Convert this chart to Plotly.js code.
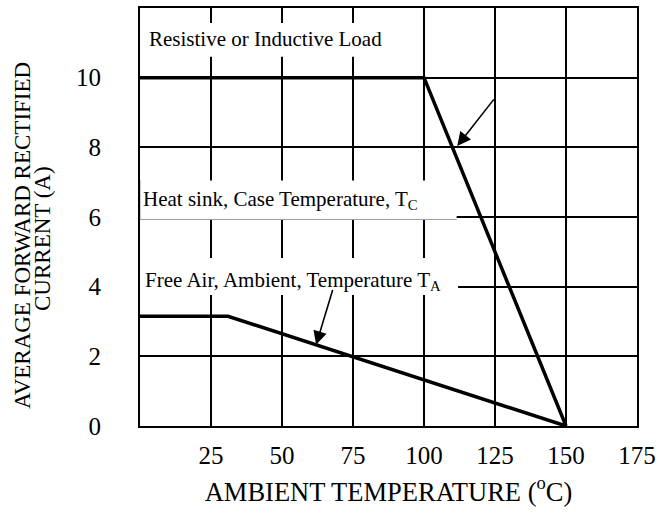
<!DOCTYPE html>
<html>
<head>
<meta charset="utf-8">
<script src="https://cdn.plot.ly/plotly-3.0.1.min.js"></script>
<style>html,body{margin:0;padding:0;background:#fff;}#chart{width:665px;height:513px;}</style>
</head>
<body>
<div id="chart"></div>
<script>
// Data
const tempCase = [0, 100, 150];
const currentCase = [10, 10, 0];
const tempAmbient = [0, 31, 150];
const currentAmbient = [3.15, 3.15, 0];
const xTickValues = [25, 50, 75, 100, 125, 150, 175];
const xTickLabels = ['25', '50', '75', '100', '125', '150', '175'];
const yTickValues = [0, 2, 4, 6, 8, 10];
const yTickLabels = ['0', '2', '4', '6', '8', '10'];
const labelLoad = 'Resistive or Inductive Load';
const labelCase = 'Heat sink, Case Temperature, T<sub>C</sub>';
const labelAmbient = 'Free Air, Ambient, Temperature T<sub>A</sub>';
const xTitle = 'AMBIENT TEMPERATURE (<sup>o</sup>C)';
const yTitleLine1 = 'AVERAGE FORWARD RECTIFIED';
const yTitleLine2 = 'CURRENT (A)';

const FONT = 'Liberation Serif, Times New Roman, serif';

const traces = [
  {x: tempCase, y: currentCase, type: 'scatter', mode: 'lines',
   line: {color: '#000', width: 3.5}, showlegend: false, hoverinfo: 'skip'},
  {x: tempAmbient, y: currentAmbient, type: 'scatter', mode: 'lines',
   line: {color: '#000', width: 3.5}, showlegend: false, hoverinfo: 'skip'}
];

const layout = {
  width: 665, height: 513,
  margin: {l: 140, r: 28, t: 8, b: 87},
  paper_bgcolor: '#fff', plot_bgcolor: '#fff',
  font: {family: FONT, color: '#000'},
  showlegend: false,
  xaxis: {
    range: [0, 175], tickmode: 'array', tickvals: xTickValues, ticktext: xTickLabels,
    showgrid: true, gridcolor: '#000', gridwidth: 2,
    zeroline: false, showline: true, mirror: true, linecolor: '#000', linewidth: 2,
    ticks: '', ticklabelstandoff: 6,
    tickfont: {family: FONT, size: 25, color: '#000'},
    title: {text: xTitle, font: {family: FONT, size: 26.5, color: '#000'}, standoff: 14},
    fixedrange: true
  },
  yaxis: {
    range: [0, 12], tickmode: 'array', tickvals: yTickValues, ticktext: yTickLabels,
    showgrid: true, gridcolor: '#000', gridwidth: 2,
    zeroline: false, showline: true, mirror: true, linecolor: '#000', linewidth: 2,
    ticks: '', ticklabelstandoff: 32,
    tickfont: {family: FONT, size: 25, color: '#000'},
    fixedrange: true
  },
  shapes: [
    {type: 'rect', xref: 'x', yref: 'y', x0: 0.5, x1: 92, y0: 10.6, y1: 11.57,
     fillcolor: '#fff', line: {width: 0}, layer: 'between'},
    {type: 'rect', xref: 'x', yref: 'y', x0: 0, x1: 111.5, y0: 5.93, y1: 7.05,
     fillcolor: '#fff', line: {width: 0}, layer: 'above'},
    {type: 'line', xref: 'x', yref: 'y', x0: 0, x1: 111.5, y0: 5.93, y1: 5.93,
     line: {color: '#999', width: 1}, layer: 'above'},
    {type: 'line', xref: 'x', yref: 'y', x0: 0, x1: 0, y0: 5.93, y1: 7.05,
     line: {color: '#999', width: 1}, layer: 'above'},
    {type: 'rect', xref: 'x', yref: 'y', x0: 0, x1: 112, y0: 3.76, y1: 4.82,
     fillcolor: '#fff', line: {width: 0}, layer: 'above'}
  ],
  annotations: [
    {xref: 'x', yref: 'y', x: 2.5, y: 11.1, xanchor: 'left', yanchor: 'middle',
     text: labelLoad, showarrow: false, font: {family: FONT, size: 21, color: '#000'}},
    {xref: 'x', yref: 'y', x: 0.5, y: 6.5, xanchor: 'left', yanchor: 'middle',
     text: labelCase, showarrow: false, font: {family: FONT, size: 21, color: '#000'}},
    {xref: 'x', yref: 'y', x: 1.2, y: 4.15, xanchor: 'left', yanchor: 'middle',
     text: labelAmbient, showarrow: false, font: {family: FONT, size: 21, color: '#000'}},
    {xref: 'x', yref: 'y', x: 111.7, y: 8.04, axref: 'x', ayref: 'y', ax: 125, ay: 9.42,
     text: '', showarrow: true, arrowhead: 2, arrowsize: 1.7, arrowwidth: 1.6, arrowcolor: '#000'},
    {xref: 'x', yref: 'y', x: 62, y: 2.33, axref: 'x', ayref: 'y', ax: 68, ay: 3.95,
     text: '', showarrow: true, arrowhead: 2, arrowsize: 1.7, arrowwidth: 1.6, arrowcolor: '#000'},
    {xref: 'paper', yref: 'paper', x: -140/497 + 23/497, y: (426-236)/418, xanchor: 'center', yanchor: 'middle',
     text: yTitleLine1, textangle: -90, showarrow: false, font: {family: FONT, size: 23, color: '#000'}},
    {xref: 'paper', yref: 'paper', x: -140/497 + 43/497, y: (426-239)/418, xanchor: 'center', yanchor: 'middle',
     text: yTitleLine2, textangle: -90, showarrow: false, font: {family: FONT, size: 23, color: '#000'}}
  ]
};

Plotly.newPlot('chart', traces, layout, {displayModeBar: false, staticPlot: true});
</script>
</body>
</html>
